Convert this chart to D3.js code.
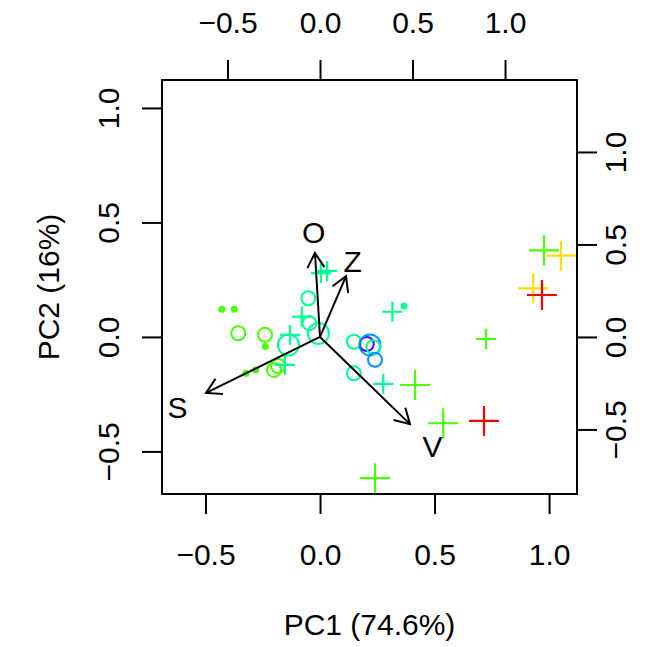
<!DOCTYPE html>
<html>
<head>
<meta charset="utf-8">
<script src="https://cdn.jsdelivr.net/npm/d3@7"></script>
<style>
  body { margin: 0; background: #fff; }
  text { font-family: "Liberation Sans", Arial, Helvetica, sans-serif; }
</style>
</head>
<body>
<div id="chart"></div>
<script>
// scores (PC1, PC2)
const scoreX = [-0.429, -0.374, -0.357, -0.240, -0.239, -0.324, -0.281, -0.201, -0.183,
  -0.153, -0.138, -0.131, -0.080, -0.051, -0.046, -0.007, 0.004, 0.031, 0.316, 0.367,
  0.148, 0.204, 0.218, 0.233, 0.240, 0.148, 0.276, 0.415, 0.538, 0.716, 0.240, 0.725,
  0.978, 1.052, 0.931, 0.969];
const scoreY = [0.121, 0.121, 0.016, 0.009, -0.042, -0.159, -0.144, -0.144, -0.127,
  -0.122, -0.035, 0.009, 0.089, 0.169, 0.060, 0.015, 0.279, 0.288, 0.110, 0.135,
  -0.021, -0.031, -0.035, -0.045, -0.100, -0.159, -0.205, -0.210, -0.377, -0.367, -0.617, -0.009,
  0.378, 0.355, 0.212, 0.183];
// group (colour level), symbol class and size class of each score
const scoreGroup = [3, 3, 3, 3, 3, 3, 3, 3, 3,
  4, 4, 4, 4, 4, 4, 4, 4, 4, 4, 4,
  4, 6, 5, 4, 5, 4, 4, 3, 3, 1, 3, 3,
  3, 2, 2, 1];
const scoreKind = ["c", "c", "a", "a", "c", "c", "c", "a", "a",
  "b", "a", "b", "b", "a", "a", "a", "b", "b", "b", "c",
  "a", "a", "a", "a", "a", "a", "b", "b", "b", "b", "b", "b",
  "b", "b", "b", "b"];
const scoreLevel = ["lo", "lo", "lo", "lo", "lo", "lo", "lo", "lo", "lo",
  "lo", "hi", "lo", "lo", "lo", "lo", "hi", "lo", "lo", "lo", "lo",
  "lo", "lo", "hi", "lo", "lo", "lo", "lo", "hi", "hi", "hi", "hi", "lo",
  "hi", "hi", "hi", "hi"];

// loadings (label positions; arrows drawn to 0.8 of them)
const varNames = ["O", "Z", "S", "V"];
const loadX = [-0.034, 0.176, -0.770, 0.608];
const loadY = [0.568, 0.411, -0.378, -0.589];

const tickValues = [-0.5, 0, 0.5, 1];
const xTitle = "PC1 (74.6%)";
const yTitle = "PC2 (16%)";

var cfg = {
  w: 645,
  h: 647,
  box: {left: 162, right: 577, top: 80, bottom: 494},
  fontSize: 30,
  tickLen: 20,
  arrowHead: 17
};

const palette = ["#FF0000", "#FFDB00", "#49FF00", "#00FF92", "#0092FF", "#4900FF", "#FF00DB"];
const color = d3.scaleOrdinal().domain([1, 2, 3, 4, 5, 6, 7]).range(palette);
const sizeScale = d3.scaleOrdinal().domain(["lo", "hi"]).range([1, 1.5]);

//Scales for the scores (bottom / left) and loadings (top / right)
const x = d3.scaleLinear().domain([-0.69, 1.122]).range([cfg.box.left, cfg.box.right]);
const y = d3.scaleLinear().domain([-0.686, 1.122]).range([cfg.box.bottom, cfg.box.top]);
const x2 = d3.scaleLinear().domain([-0.854, 1.389]).range([cfg.box.left, cfg.box.right]);
const y2 = d3.scaleLinear().domain([-0.849, 1.389]).range([cfg.box.bottom, cfg.box.top]);

const svg = d3.select("#chart").append("svg")
  .attr("width", cfg.w)
  .attr("height", cfg.h);

const fmt = d => (d < 0 ? "\u2212" : "") + Math.abs(d).toFixed(1);

// points
const pts = svg.append("g").attr("class", "points");
scoreX.forEach(function(px, i) {
  const cx = x(px), cy = y(scoreY[i]);
  const k = sizeScale(scoreLevel[i]);
  const col = color(scoreGroup[i]);
  if (scoreKind[i] === "a") {
    pts.append("circle").attr("cx", cx).attr("cy", cy).attr("r", 7 * k)
      .style("fill", "none").style("stroke", col).style("stroke-width", 2);
  } else if (scoreKind[i] === "b") {
    const s = 10 * k;
    pts.append("path")
      .attr("d", "M" + (cx - s) + "," + cy + "H" + (cx + s) + "M" + cx + "," + (cy - s) + "V" + (cy + s))
      .style("fill", "none").style("stroke", col).style("stroke-width", 2.2);
  } else {
    pts.append("circle").attr("cx", cx).attr("cy", cy).attr("r", 3.5 * k)
      .style("fill", col);
  }
});

// arrows
const arr = svg.append("g").attr("class", "arrows");
varNames.forEach(function(name, i) {
  const x0 = x2(0), y0 = y2(0);
  const x1 = x2(loadX[i] * 0.8), y1 = y2(loadY[i] * 0.8);
  const ang = Math.atan2(y1 - y0, x1 - x0);
  const h = cfg.arrowHead, a = Math.PI / 6;
  arr.append("path")
    .attr("d", "M" + x0 + "," + y0 + "L" + x1 + "," + y1 +
      "M" + (x1 - h * Math.cos(ang - a)) + "," + (y1 - h * Math.sin(ang - a)) +
      "L" + x1 + "," + y1 +
      "L" + (x1 - h * Math.cos(ang + a)) + "," + (y1 - h * Math.sin(ang + a)))
    .style("fill", "none").style("stroke", "black").style("stroke-width", 2);
  arr.append("text")
    .attr("x", x2(loadX[i]))
    .attr("y", y2(loadY[i]))
    .attr("dy", "0.36em")
    .attr("text-anchor", "middle")
    .style("font-size", cfg.fontSize + "px")
    .text(name);
});

// box
svg.append("rect")
  .attr("x", cfg.box.left).attr("y", cfg.box.top)
  .attr("width", cfg.box.right - cfg.box.left)
  .attr("height", cfg.box.bottom - cfg.box.top)
  .style("fill", "none").style("stroke", "black").style("stroke-width", 2);

// axes
const addAxis = function(axis, tx, ty, labelFn) {
  const g = svg.append("g").attr("transform", "translate(" + tx + "," + ty + ")")
    .call(axis.tickValues(tickValues).tickSize(cfg.tickLen).tickFormat(fmt));
  g.select(".domain").remove();
  g.selectAll(".tick line").style("stroke", "black").style("stroke-width", 2);
  g.selectAll(".tick text")
    .style("font-size", cfg.fontSize + "px")
    .style("fill", "black")
    .attr("text-anchor", "middle")
    .attr("dy", "0.36em")
    .each(labelFn);
};

addAxis(d3.axisBottom(x), 0, cfg.box.bottom, function() {
  d3.select(this).attr("x", 0).attr("y", 59.7);
});
addAxis(d3.axisTop(x2), 0, cfg.box.top, function() {
  d3.select(this).attr("x", 0).attr("y", -58);
});
addAxis(d3.axisLeft(y), cfg.box.left, 0, function() {
  d3.select(this).attr("x", 0).attr("y", 0).attr("transform", "translate(-54,0) rotate(-90)");
});
addAxis(d3.axisRight(y2), cfg.box.right, 0, function() {
  d3.select(this).attr("x", 0).attr("y", 0).attr("transform", "translate(38,0) rotate(-90)");
});

// axis titles
svg.append("text")
  .attr("x", (cfg.box.left + cfg.box.right) / 2)
  .attr("y", 624)
  .attr("dy", "0.36em")
  .attr("text-anchor", "middle")
  .style("font-size", cfg.fontSize + "px")
  .text(xTitle);
svg.append("text")
  .attr("transform", "translate(48," + ((cfg.box.top + cfg.box.bottom) / 2) + ") rotate(-90)")
  .attr("dy", "0.36em")
  .attr("text-anchor", "middle")
  .style("font-size", cfg.fontSize + "px")
  .text(yTitle);
</script>
</body>
</html>
